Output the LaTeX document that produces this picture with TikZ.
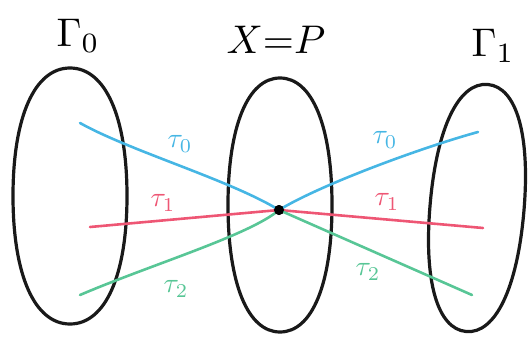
\documentclass[tikz,border=0pt]{standalone}
\usetikzlibrary{shapes.geometric}
\definecolor{cblue}{RGB}{70,182,228}
\definecolor{cred}{RGB}{238,86,116}
\definecolor{cgreen}{RGB}{88,198,150}
\newcommand{\bigtxt}[1]{\scalebox{4}{#1}}
\newcommand{\midtxt}[1]{\scalebox{2.8}{#1}}
% \blob{name}{cx}{cy}{rx}{ry}{rotation}
\newcommand{\blob}[6]{%
  \node[ellipse, inner sep=0pt, minimum width=2*#4pt, minimum height=2*#5pt, rotate=#6] (#1) at (#2,#3) {};
  \begin{scope}[shift={(#2,#3)}, rotate=#6]
    \draw[region] (0,-#5) .. controls (0.62*#4,-#5) and (#4,-0.62*#5) .. (#4,0)
      .. controls (#4,0.62*#5) and (0.62*#4,#5) .. (0,#5)
      .. controls (-0.62*#4,#5) and (-#4,0.62*#5) .. (-#4,0)
      .. controls (-#4,-0.62*#5) and (-0.62*#4,-#5) .. cycle;
  \end{scope}}
\tikzset{
  region/.style={draw=black!90, line width=3.2pt, line join=round},
  ray/.style={line width=2.6pt, line cap=round},
  title/.style={inner sep=0pt},
  lab/.style={inner sep=0pt},
  dot/.style={circle, fill=black, minimum size=10pt, inner sep=0pt},
}
\begin{document}
\begin{tikzpicture}[x=1pt,y=-1pt]
\useasboundingbox (0,0) rectangle (530,337);
% regions
\blob{G0}{70}{196}{57}{128}{0}
\blob{X}{280}{205}{52}{127}{0}
\blob{G1}{477}{208}{47}{124}{-5}
% titles
\node[title] (t0) at (78,36) {\bigtxt{$\Gamma_{0}$}};
\node[title] (tx) at (276,40) {\bigtxt{$X{=}P$}};
\node[title] (t1) at (493,46) {\bigtxt{$\Gamma_{1}$}};
% center point
\node[dot] (p) at (279,210) {};
% free ends
\coordinate (b0) at (80,123);
\coordinate (r0) at (90,227);
\coordinate (g0) at (80,295);
\coordinate (b1) at (478,132);
\coordinate (r1) at (483,228);
\coordinate (g1) at (472,295);
% rays
\draw[ray, cblue] (b0) .. controls (130,151) and (230,180) .. (p.center);
\draw[ray, cred] (r0) -- (p.center);
\draw[ray, cgreen] (g0) .. controls (150,265) and (250,235) .. (p.center);
\draw[ray, cblue] (p.center) .. controls (320,185) and (420,148) .. (b1);
\draw[ray, cred] (p.center) -- (r1);
\draw[ray, cgreen] (p.center) -- (g1);
\node[dot] at (p) {};
% labels
\node[lab, text=cblue] (lb0) at (180,144) {\midtxt{$\tau_0$}};
\node[lab, text=cred] (lr0) at (163,203) {\midtxt{$\tau_1$}};
\node[lab, text=cgreen] (lg0) at (176,289) {\midtxt{$\tau_2$}};
\node[lab, text=cblue] (lb1) at (385,140) {\midtxt{$\tau_0$}};
\node[lab, text=cred] (lr1) at (387,202) {\midtxt{$\tau_1$}};
\node[lab, text=cgreen] (lg1) at (368,272) {\midtxt{$\tau_2$}};
\end{tikzpicture}
\end{document}
